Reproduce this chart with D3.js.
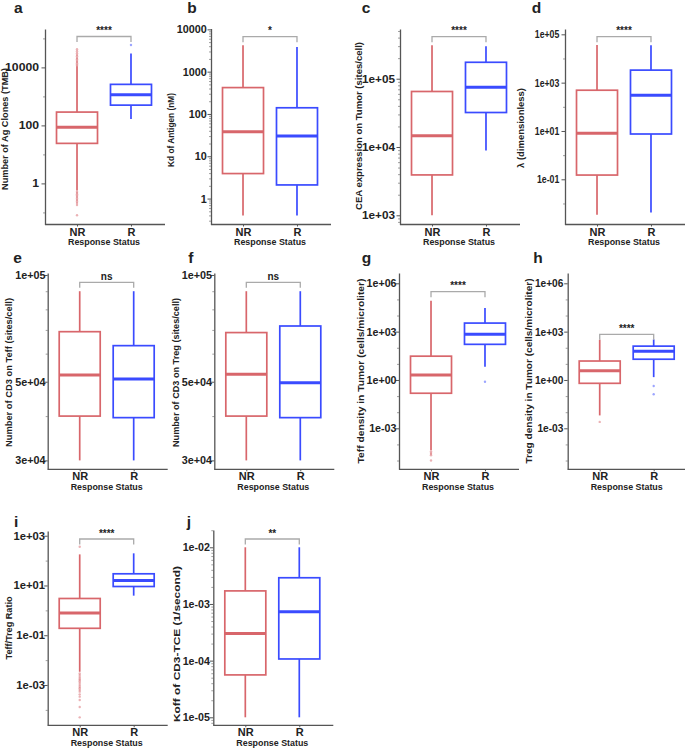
<!DOCTYPE html>
<html><head><meta charset="utf-8">
<script src="https://cdn.jsdelivr.net/npm/d3@7"></script>
<style>
body{margin:0;background:#fff}
text{font-family:"Liberation Sans",Arial,sans-serif;font-weight:bold;fill:#222}
</style></head><body>
<svg id="chart" width="685" height="750"></svg>
<script>
// ---------------- data ----------------
const groups = ["NR", "R"];
const panelIds = ["a","b","c","d","e","f","g","h","i","j"];
const yTitles = [
  "Number of Ag Clones (TMB)",
  "Kd of Antigen (nM)",
  "CEA expression on Tumor (sites/cell)",
  "\u03bb (dimensionless)",
  "Number of CD3 on Teff (sites/cell)",
  "Number of CD3 on Treg (sites/cell)",
  "Teff density in Tumor (cells/microliter)",
  "Treg density in Tumor (cells/microliter)",
  "Teff/Treg Ratio",
  "Koff of CD3-TCE (1/second)"
];
const xTitle = "Response Status";
const sigLabels = ["****","*","****","****","ns","ns","****","****","****","**"];
// box stats: [lower whisker, q1, median, q3, upper whisker]
const nrBox = [
  [0.57, 24, 87, 288, 11000],
  [0.4, 3.9, 38, 420, 4200],
  [1000, 3900, 14600, 65000, 310000],
  [0.0034, 0.15, 8, 486, 36000],
  [30000, 40000, 52200, 69200, 90000],
  [30000, 40000, 52500, 68800, 90000],
  [4.5e-5, 0.15, 2.0, 30, 83000],
  [0.0063, 0.62, 3.8, 15, 316],
  [0.0034, 0.19, 0.78, 3.0, 178],
  [1e-5, 5.6e-5, 3.0e-4, 1.7e-3, 1e-2]
];
const rBox = [
  [165, 500, 1140, 2600, 30000],
  [0.4, 2.1, 30, 140, 3800],
  [8900, 32000, 75000, 174000, 300000],
  [0.0042, 7.5, 300, 3300, 35000],
  [30000, 39600, 50900, 63200, 90000],
  [30000, 39600, 49700, 71800, 90000],
  [6.7, 163, 700, 3400, 29000],
  [1.5, 19.4, 60, 126, 330],
  [3.9, 9.1, 15.9, 29.5, 196],
  [1e-5, 1.07e-4, 7.3e-4, 2.9e-3, 1e-2]
];
const nrOutliers = [
  [11500,12500,14000,15500,17000,19000,21000,24000,27000,31000,36000,42000,
   0.52,0.47,0.42,0.38,0.34,0.3,0.27,0.24,0.21,0.18,0.08],
  [], [], [], [], [],
  [3.8e-5,3.0e-5,2.5e-5,2.1e-5,1.0e-5],
  [0.0025],
  [360, 2.9e-3,2.5e-3,2.1e-3,1.8e-3,1.6e-3,1.4e-3,1.2e-3,1.0e-3,8.5e-4,7.4e-4,6.3e-4,5.4e-4,4.2e-4,3.4e-4,2.5e-4,1.3e-4,5e-5],
  []
];
const rOutliers = [
  [59000], [], [], [], [], [],
  [0.78],
  [0.42, 0.13],
  [], []
];
const tickVals = [
  [1,100,10000],
  [1,10,100,1000,10000],
  [1e3,1e4,1e5],
  [1e-1,1e1,1e3,1e5],
  [3e4,5e4,1e5],
  [3e4,5e4,1e5],
  [1e-3,1,1e3,1e6],
  [1e-3,1,1e3,1e6],
  [1e-3,1e-1,1e1,1e3],
  [1e-5,1e-4,1e-3,1e-2]
];
const tickTexts = [
  ["1","100","10000"],
  ["1","10","100","1000","10000"],
  ["1e+03","1e+04","1e+05"],
  ["1e-01","1e+01","1e+03","1e+05"],
  ["3e+04","5e+04","1e+05"],
  ["3e+04","5e+04","1e+05"],
  ["1e-03","1e+00","1e+03","1e+06"],
  ["1e-03","1e+00","1e+03","1e+06"],
  ["1e-03","1e-01","1e+01","1e+03"],
  ["1e-05","1e-04","1e-03","1e-02"]
];

// ---------------- layout ----------------
const layout = [
  {x:45,    top:29,  bottom:224.5, dom:[-1.417,5.324], fine:false, brY:36.5,  gap:6,   lblX:8,   lblLen:122, lblCy:129,   sx:1.13, let:[14,12.7]},
  {x:211,   top:28.5,bottom:224.5, dom:[-0.613,4.02],  fine:true,  brY:36.7,  gap:4.3, lblX:174, lblLen:74,  lblCy:130,   sx:1.0,  let:[187.3,12.7]},
  {x:400,   top:29,  bottom:224.5, dom:[2.865,5.728],  fine:true,  brY:36.7,  gap:5,   lblX:362, lblLen:168, lblCy:126,   sx:1.09, let:[361.7,12.7]},
  {x:565,   top:29,  bottom:224.5, dom:[-2.87,5.22],   fine:false, brY:36.7,  gap:5.7, lblX:524, lblLen:80,  lblCy:128,   sx:0.81, let:[531.7,12.7]},
  {x:47.7,  top:273, bottom:469.3, dom:[4.452,5.0056], fine:true,  brY:282.3, gap:2.2, lblX:12,  lblLen:149, lblCy:372.5, sx:1.0,  let:[13.3,262.7]},
  {x:214.3, top:273, bottom:469.3, dom:[4.452,5.0056], fine:true,  brY:282.3, gap:2.2, lblX:179, lblLen:149, lblCy:372.5, sx:1.0,  let:[188.3,262.7]},
  {x:399,   top:273, bottom:469.3, dom:[-5.545,6.64],  fine:false, brY:291.7, gap:2.5, lblX:364, lblLen:185, lblCy:371,   sx:0.99, let:[361.7,262.7]},
  {x:567.7, top:273, bottom:469.3, dom:[-5.545,6.64],  fine:false, brY:334.3, gap:4.3, lblX:532, lblLen:185, lblCy:371,   sx:0.94, let:[533.3,262.7]},
  {x:47.7,  top:531, bottom:725.3, dom:[-4.62,3.19],   fine:false, brY:539,   gap:2.7, lblX:12,  lblLen:63,  lblCy:628,   sx:1.04, let:[14,527]},
  {x:213.3, top:530, bottom:725.3, dom:[-5.141,-1.695],fine:true,  brY:539,   gap:3.3, lblX:180, lblLen:156, lblCy:644,   sx:0.99, let:[186.7,527]}
];
const colors = {NR:"#d8666b", R:"#3a4bff"};
const axisColor = "#555";

// ---------------- drawing ----------------
const svg = d3.select("#chart");

panelIds.forEach((id, i) => {
  const L = layout[i];
  const y = d3.scaleLog().domain([10 ** L.dom[0], 10 ** L.dom[1]]).range([L.bottom, L.top]);
  const x = d3.scalePoint().domain(groups).range([L.x, L.x + 118]).padding(0.593);
  const g = svg.append("g");

  // minor ticks
  const minors = [];
  const ks = L.fine ? [1,2,3,4,5,6,7,8,9] : [1];
  for (let e = Math.floor(L.dom[0]) - 1; e <= Math.ceil(L.dom[1]); e++) {
    ks.forEach(k => {
      const v = k * 10 ** e, lv = Math.log10(v);
      if (lv >= L.dom[0] - 1e-9 && lv <= L.dom[1] + 1e-9 &&
          !tickVals[i].some(t => Math.abs(t - v) / v < 1e-6)) minors.push(v);
    });
  }
  const minorAxis = g.append("g").attr("transform", `translate(${L.x},0)`)
    .call(d3.axisLeft(y).tickValues(minors).tickSize(2).tickSizeOuter(0).tickFormat(""));
  minorAxis.select(".domain").remove();
  minorAxis.selectAll("line").attr("stroke", "#888").attr("stroke-width", 0.8);

  // major y axis
  const yAxis = g.append("g").attr("transform", `translate(${L.x},0)`)
    .call(d3.axisLeft(y).tickValues(tickVals[i]).tickSize(3.5).tickSizeOuter(0)
      .tickPadding(2).tickFormat((d, j) => tickTexts[i][j]));
  yAxis.select(".domain").attr("stroke", axisColor).attr("stroke-width", 1.3);
  yAxis.selectAll("line").attr("stroke", axisColor).attr("stroke-width", 1);
  yAxis.selectAll("text")
    .attr("font-size", 10.8).attr("fill", "#222")
    .attr("x", -L.gap / L.sx).attr("transform", `scale(${L.sx},1)`);

  // x axis
  const xAxis = g.append("g").attr("transform", `translate(0,${L.bottom})`)
    .call(d3.axisBottom(x).tickSize(2).tickSizeOuter(0));
  xAxis.select(".domain").attr("stroke", axisColor).attr("stroke-width", 1.3)
    .attr("d", `M${L.x},0H${L.x + 120}`);
  xAxis.selectAll("line").attr("stroke", axisColor);
  xAxis.selectAll("text").attr("font-size", 11).attr("fill", "#222")
    .attr("y", 11).attr("dy", 0);

  // x title
  g.append("text")
    .attr("x", (x("NR") + x("R")) / 2).attr("y", L.bottom + 20.5)
    .attr("text-anchor", "middle").attr("font-size", 9.5)
    .attr("textLength", 72).attr("lengthAdjust", "spacingAndGlyphs")
    .text(xTitle);

  // y title
  g.append("text")
    .attr("transform", `translate(${L.lblX},${L.lblCy}) rotate(-90)`)
    .attr("text-anchor", "middle").attr("font-size", 9.3)
    .attr("textLength", L.lblLen).attr("lengthAdjust", "spacingAndGlyphs")
    .text(yTitles[i]);

  // panel letter
  g.append("text").attr("x", L.let[0]).attr("y", L.let[1])
    .attr("font-size", 15.5).attr("fill", "#111").text(id);

  // boxes
  const hw = 20.5;
  groups.forEach((grp, gi) => {
    const s = gi === 0 ? nrBox[i] : rBox[i];
    const outs = gi === 0 ? nrOutliers[i] : rOutliers[i];
    const c = colors[grp], cx = x(grp);
    const bg = g.append("g");
    bg.selectAll("circle.o").data(outs).join("circle")
      .attr("cx", cx).attr("cy", d => y(d)).attr("r", 1.2)
      .attr("fill", c).attr("fill-opacity", 0.5);
    bg.append("line").attr("x1", cx).attr("x2", cx).attr("y1", y(s[0])).attr("y2", y(s[1]))
      .attr("stroke", c).attr("stroke-width", 1.7);
    bg.append("line").attr("x1", cx).attr("x2", cx).attr("y1", y(s[3])).attr("y2", y(s[4]))
      .attr("stroke", c).attr("stroke-width", 1.7);
    bg.append("rect").attr("x", cx - hw).attr("width", hw * 2)
      .attr("y", y(s[3])).attr("height", y(s[1]) - y(s[3]))
      .attr("fill", "#fff").attr("stroke", c).attr("stroke-width", 1.7);
    bg.append("line").attr("x1", cx - hw).attr("x2", cx + hw).attr("y1", y(s[2])).attr("y2", y(s[2]))
      .attr("stroke", c).attr("stroke-width", 3);
  });

  // significance bracket
  const x0 = x("NR"), x1 = x("R");
  g.append("path")
    .attr("d", `M${x0},${L.brY + 5.5}V${L.brY}H${x1}V${L.brY + 5.5}`)
    .attr("fill", "none").attr("stroke", "#aaa").attr("stroke-width", 1.3);
  g.append("text").attr("x", (x0 + x1) / 2).attr("y", L.brY - 2.5)
    .attr("text-anchor", "middle").attr("font-size", 10).attr("fill", "#333")
    .attr("font-weight", sigLabels[i] === "ns" ? "normal" : "bold")
    .text(sigLabels[i]);
});
</script>
</body></html>
